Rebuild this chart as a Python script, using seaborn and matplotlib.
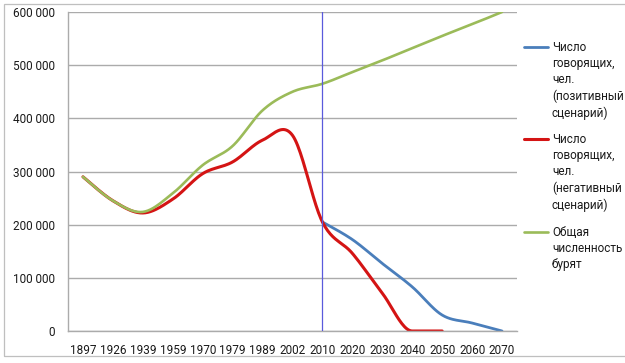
import numpy as np
import pandas as pd
import matplotlib
matplotlib.use("Agg")
import matplotlib.pyplot as plt
import seaborn as sns
from matplotlib.lines import Line2D
from matplotlib.patches import Rectangle
from matplotlib.ticker import FuncFormatter

# data
years = ["1897", "1926", "1939", "1959", "1970", "1979", "1989", "2002", "2010",
         "2020", "2030", "2040", "2050", "2060", "2070"]
positive = [None, None, None, None, None, None, None, None,
            205000, 172000, 127000, 83000, 30000, 15000, 0]
negative = [290000, 245000, 222000, 248000, 296000, 318000, 359000, 368000,
            205000, 146000, 71000, 0, 0, None, None]
total = [290000, 245000, 224000, 259000, 312000, 348000, 415000, 450000,
         465000, 487000, 509000, 532000, 555000, 577000, 600000]

labels = ["Число\nговорящих,\nчел.\n(позитивный\nсценарий)",
          "Число\nговорящих,\nчел.\n(негативный\nсценарий)",
          "Общая\nчисленность\nбурят"]
colors = ["#4A7EBB", "#D41414", "#9BBB59"]
current_year = "2010"


def smooth(xs, ys, n=24):
    # excel-like smoothed line (catmull-rom bezier), flat where two points are equal
    x = np.asarray(xs, float)
    y = np.asarray(ys, float)
    k = len(x)
    tx = np.zeros(k)
    ty = np.zeros(k)
    for i in range(k):
        a = max(i - 1, 0)
        b = min(i + 1, k - 1)
        tx[i] = (x[b] - x[a]) / 2
        ty[i] = (y[b] - y[a]) / 2
        if (i > 0 and y[i] == y[i - 1]) or (i < k - 1 and y[i] == y[i + 1]):
            ty[i] = 0
    t = np.linspace(0, 1, n)[:, None]
    out = []
    for i in range(k - 1):
        p1 = np.array([x[i], y[i]])
        p2 = np.array([x[i + 1], y[i + 1]])
        c1 = p1 + np.array([tx[i], ty[i]]) / 3
        c2 = p2 - np.array([tx[i + 1], ty[i + 1]]) / 3
        out.append((1 - t) ** 3 * p1 + 3 * (1 - t) ** 2 * t * c1
                   + 3 * (1 - t) * t ** 2 * c2 + t ** 3 * p2)
    out = np.vstack(out)
    return out[:, 0], out[:, 1]


sns.set_style("white")
plt.rcParams["font.family"] = ["Roboto", "DejaVu Sans"]
plt.rcParams["font.size"] = 8.5
text_color = "#1a1a1a"
grid_color = "#ABABAB"
W, H = 625, 363

fig = plt.figure(figsize=(6.25, 3.63), dpi=100)
ax = fig.add_axes([68 / W, 1 - 331 / H, (517 - 68) / W, (331 - 12) / H])

df = pd.DataFrame({"year": years, "positive": positive,
                   "negative": negative, "total": total})
df["pos"] = np.arange(len(df))

widths = [2.0, 2.2, 1.9]
for col, color, lw in zip(["positive", "negative", "total"], colors, widths):
    sub = df.dropna(subset=[col])
    sx, sy = smooth(sub["pos"], sub[col].astype(float))
    sns.lineplot(x=sx, y=sy, ax=ax, color=color, lw=lw, sort=False,
                 estimator=None, legend=False)

ax.axvline(years.index(current_year), color="#5A5ADC", lw=0.9, zorder=5)

ax.set_xlim(-0.5, len(years) - 0.5)
ax.set_ylim(0, 600000)
ax.set_yticks(np.arange(0, 600001, 100000))
ax.yaxis.set_major_formatter(FuncFormatter(lambda v, p: f"{int(v):,}".replace(",", " ")))
ax.yaxis.grid(True, color=grid_color, lw=1.0)
ax.set_axisbelow(True)

ax.set_xticks(np.arange(len(years)))
ax.set_xticklabels(years)
ax.set_xticks(np.arange(-0.5, len(years), 1), minor=True)
ax.tick_params(axis="x", which="major", length=0, pad=9, labelcolor=text_color)
ax.tick_params(axis="x", which="minor", length=3, width=0.8, color=grid_color, direction="out")
ax.tick_params(axis="y", which="major", length=3, width=0.8, color=grid_color,
               direction="out", pad=6.5, labelcolor=text_color)
ax.set_xlabel("")
ax.set_ylabel("")

for side in ["top", "right"]:
    ax.spines[side].set_visible(False)
for side in ["left", "bottom"]:
    ax.spines[side].set_color(grid_color)
    ax.spines[side].set_linewidth(1.0)

# legend drawn entry by entry so the key sits on the first text line
legend_rows = [47, 139, 232]
for label, color, lw, row in zip(labels, colors, widths, legend_rows):
    fig.add_artist(Line2D([524 / W, 548 / W], [1 - row / H, 1 - row / H],
                          transform=fig.transFigure, color=color, lw=lw))
    fig.text(552 / W, 1 - (row - 6) / H, label, ha="left", va="top",
             fontsize=8.5, color=text_color, linespacing=1.32)

# outer chart border
fig.add_artist(Rectangle((4 / W, 1 - 356 / H), 1.0, (356 - 4) / H,
                         transform=fig.transFigure, fill=False,
                         edgecolor="#BFBFBF", lw=0.9))

fig.savefig("out.png", dpi=100)
